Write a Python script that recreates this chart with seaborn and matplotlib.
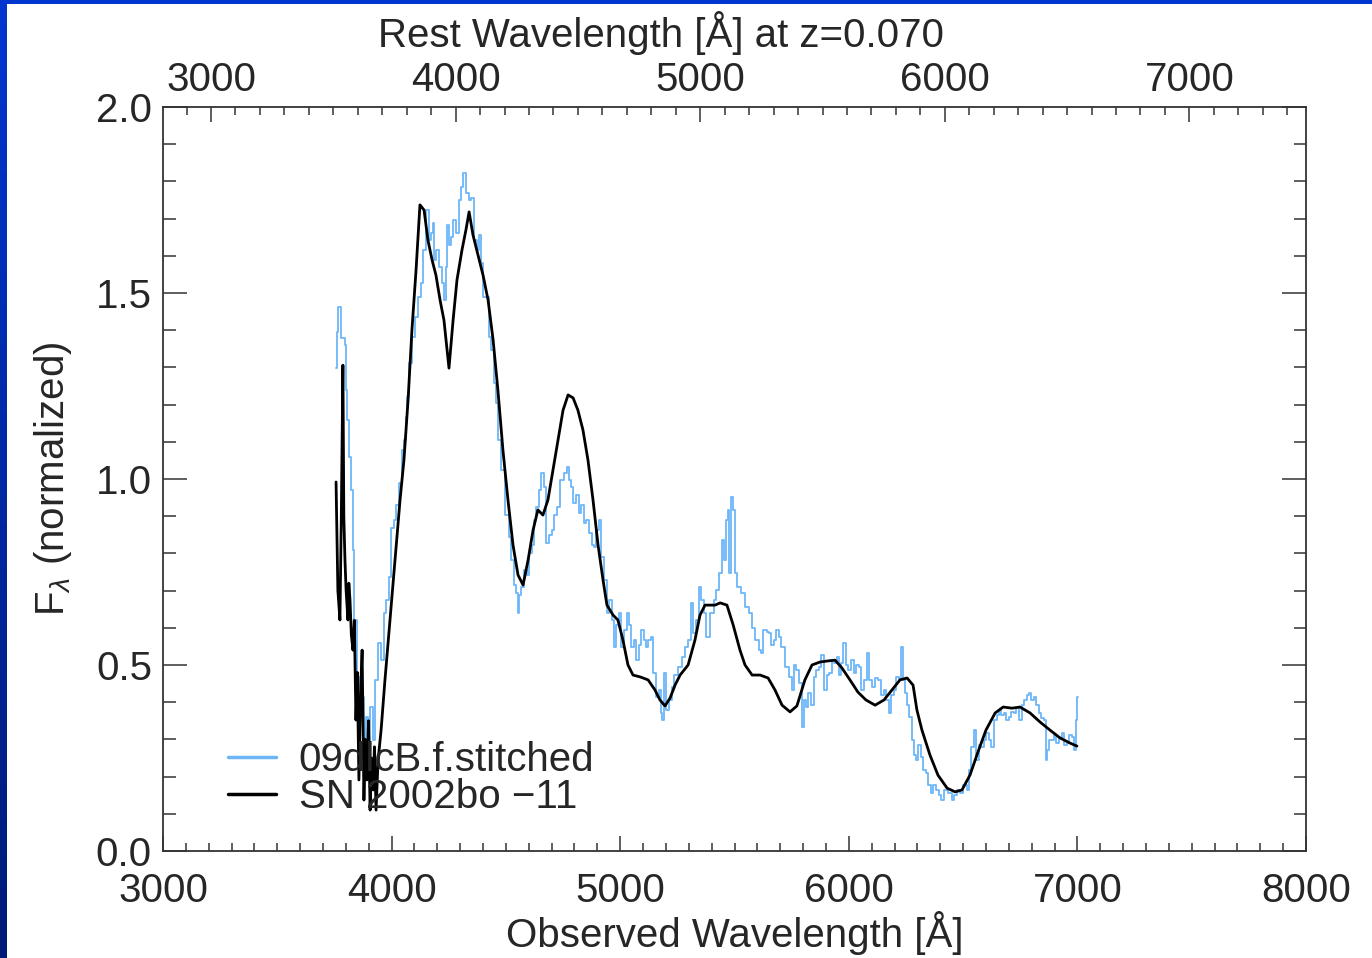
import numpy as np
import pandas as pd
import matplotlib
matplotlib.use("Agg")
import matplotlib.pyplot as plt
import seaborn as sns
from matplotlib.ticker import MultipleLocator, FixedLocator

# ---------------- data ----------------
Z = 0.070

# 09dlcB.f.stitched (observed wavelength [A], normalized flux)
wave_09dlc = [3757, 3761, 3774, 3783, 3792, 3796, 3801, 3809, 3818, 3827, 3831, 3840, 3853, 3871, 3884, 3892,
              3901, 3914, 3923, 3936, 3949, 3962, 3971, 3984, 3993, 4002, 4015, 4024, 4037, 4050, 4059, 4067,
              4072, 4081, 4094, 4111, 4124, 4133, 4146, 4159, 4168, 4177, 4181, 4190, 4199, 4212, 4225, 4234,
              4242, 4247, 4256, 4264, 4277, 4290, 4299, 4308, 4317, 4330, 4343, 4356, 4365, 4378, 4387, 4395,
              4409, 4422, 4430, 4444, 4452, 4461, 4474, 4487, 4505, 4518, 4527, 4540, 4549, 4553, 4562, 4571,
              4584, 4597, 4605, 4619, 4627, 4640, 4649, 4658, 4671, 4684, 4697, 4706, 4719, 4728, 4745, 4759,
              4772, 4780, 4789, 4802, 4815, 4824, 4837, 4846, 4859, 4868, 4881, 4890, 4899, 4912, 4920, 4934,
              4947, 4955, 4969, 4977, 4990, 4999, 5012, 5025, 5034, 5043, 5052, 5065, 5074, 5087, 5096, 5109,
              5117, 5130, 5139, 5152, 5165, 5174, 5183, 5187, 5196, 5209, 5218, 5231, 5244, 5262, 5275, 5292,
              5305, 5314, 5327, 5340, 5349, 5362, 5371, 5384, 5402, 5415, 5424, 5437, 5450, 5459, 5467, 5476,
              5480, 5489, 5498, 5502, 5524, 5537, 5555, 5568, 5581, 5598, 5612, 5620, 5633, 5647, 5655, 5668,
              5677, 5690, 5699, 5712, 5730, 5743, 5756, 5765, 5773, 5787, 5800, 5808, 5817, 5830, 5843, 5852,
              5865, 5874, 5883, 5896, 5909, 5918, 5931, 5940, 5953, 5962, 5970, 5983, 5992, 6005, 6018, 6027,
              6040, 6049, 6062, 6071, 6084, 6093, 6106, 6119, 6136, 6150, 6158, 6171, 6180, 6193, 6202, 6215,
              6224, 6233, 6242, 6246, 6259, 6268, 6281, 6290, 6298, 6311, 6320, 6333, 6342, 6355, 6364, 6377,
              6386, 6399, 6412, 6425, 6443, 6456, 6465, 6478, 6495, 6508, 6522, 6530, 6539, 6552, 6565, 6574,
              6583, 6596, 6605, 6618, 6626, 6640, 6653, 6661, 6674, 6683, 6696, 6705, 6718, 6727, 6740, 6749,
              6762, 6771, 6784, 6793, 6805, 6814, 6828, 6836, 6849, 6858, 6867, 6871, 6880, 6889, 6902, 6911,
              6924, 6937, 6946, 6959, 6968, 6981, 6990, 6994, 7003]
flux_09dlc = [1.298, 1.395, 1.462, 1.379, 1.379, 1.360, 1.239, 1.159, 1.059, 0.970, 0.809, 0.621, 0.468, 0.414, 0.298, 0.360,
              0.245, 0.387, 0.298, 0.460, 0.559, 0.513, 0.640, 0.675, 0.737, 0.868, 0.890, 0.930, 0.989, 1.078, 1.105, 1.167,
              1.220, 1.312, 1.382, 1.435, 1.489, 1.527, 1.616, 1.723, 1.642, 1.661, 1.688, 1.589, 1.616, 1.570, 1.527, 1.481,
              1.570, 1.683, 1.629, 1.651, 1.696, 1.661, 1.750, 1.785, 1.823, 1.769, 1.750, 1.755, 1.642, 1.616, 1.656, 1.581,
              1.489, 1.489, 1.382, 1.347, 1.258, 1.204, 1.105, 1.024, 0.903, 0.844, 0.782, 0.715, 0.694, 0.640, 0.688, 0.710,
              0.755, 0.742, 0.801, 0.823, 0.890, 0.925, 0.970, 1.016, 0.978, 0.828, 0.849, 0.863, 0.903, 0.925, 0.997, 1.016,
              1.032, 0.997, 0.978, 0.935, 0.957, 0.909, 0.930, 0.882, 0.890, 0.855, 0.823, 0.817, 0.863, 0.890, 0.790, 0.728,
              0.640, 0.675, 0.621, 0.548, 0.608, 0.640, 0.548, 0.594, 0.640, 0.608, 0.548, 0.567, 0.513, 0.554, 0.594, 0.567,
              0.548, 0.567, 0.575, 0.478, 0.414, 0.433, 0.371, 0.352, 0.478, 0.379, 0.406, 0.441, 0.473, 0.495, 0.522, 0.548,
              0.567, 0.667, 0.586, 0.621, 0.710, 0.675, 0.640, 0.575, 0.640, 0.675, 0.702, 0.747, 0.836, 0.782, 0.890, 0.917,
              0.747, 0.952, 0.917, 0.747, 0.710, 0.694, 0.656, 0.640, 0.599, 0.567, 0.540, 0.532, 0.594, 0.589, 0.586, 0.554,
              0.567, 0.594, 0.575, 0.548, 0.495, 0.468, 0.433, 0.500, 0.487, 0.452, 0.333, 0.406, 0.387, 0.425, 0.392, 0.468,
              0.487, 0.495, 0.527, 0.433, 0.473, 0.478, 0.513, 0.505, 0.522, 0.473, 0.505, 0.559, 0.500, 0.487, 0.513, 0.478,
              0.500, 0.495, 0.433, 0.460, 0.532, 0.460, 0.441, 0.465, 0.460, 0.419, 0.433, 0.406, 0.371, 0.419, 0.433, 0.468,
              0.460, 0.548, 0.460, 0.425, 0.392, 0.360, 0.298, 0.258, 0.245, 0.285, 0.253, 0.218, 0.210, 0.177, 0.156, 0.177,
              0.164, 0.151, 0.137, 0.164, 0.156, 0.137, 0.151, 0.164, 0.156, 0.177, 0.164, 0.218, 0.280, 0.325, 0.245, 0.285,
              0.280, 0.298, 0.317, 0.298, 0.280, 0.352, 0.366, 0.379, 0.366, 0.371, 0.352, 0.360, 0.374, 0.371, 0.384, 0.352,
              0.392, 0.406, 0.419, 0.425, 0.406, 0.414, 0.392, 0.371, 0.358, 0.352, 0.245, 0.272, 0.298, 0.298, 0.312, 0.290,
              0.304, 0.317, 0.285, 0.290, 0.312, 0.306, 0.272, 0.352, 0.414]

# SN 2002bo -11 (template)
wave_02bo = [3757, 3765, 3774, 3780, 3787, 3791, 3796, 3801, 3809, 3813, 3818, 3824, 3831, 3837, 3844, 3850,
             3857, 3864, 3871, 3879, 3885, 3892, 3899, 3906, 3912, 3919, 3925, 3932, 3941,
             3954, 3971, 3993, 4015, 4037, 4054, 4072, 4089, 4107, 4124, 4142, 4159, 4177, 4194, 4212, 4229,
             4251, 4269, 4286, 4308, 4325, 4339, 4356, 4378, 4400, 4422, 4444, 4465, 4487, 4509, 4531, 4553,
             4575, 4597, 4619, 4640, 4662, 4684, 4706, 4728, 4750, 4772, 4794, 4815, 4837, 4859, 4881, 4903,
             4925, 4942, 4969, 4990, 5012, 5034, 5056, 5087, 5122, 5152, 5174, 5196, 5218, 5240, 5262, 5297,
             5327, 5349, 5371, 5415, 5437, 5467, 5494, 5524, 5546, 5577, 5612, 5647, 5677, 5708, 5743, 5773,
             5808, 5839, 5874, 5909, 5940, 5970, 6005, 6040, 6075, 6115, 6154, 6189, 6224, 6255, 6281, 6298,
             6320, 6355, 6390, 6430, 6465, 6495, 6530, 6565, 6600, 6640, 6675, 6714, 6749, 6793, 6836, 6880,
             6924, 6968, 6998]
flux_02bo = [0.992, 0.700, 0.621, 0.900, 1.306, 0.900, 0.782, 0.700, 0.621, 0.720, 0.675, 0.580, 0.540, 0.620, 0.352, 0.480,
             0.191, 0.420, 0.540, 0.137, 0.300, 0.191, 0.350, 0.110, 0.250, 0.164, 0.280, 0.110, 0.245,
             0.325, 0.460, 0.621, 0.782, 0.944, 1.051, 1.212, 1.401, 1.562, 1.737, 1.723, 1.642, 1.589, 1.548, 1.481, 1.427,
             1.298, 1.427, 1.535, 1.616, 1.669, 1.718, 1.656, 1.602, 1.548, 1.481, 1.374, 1.239, 1.078, 0.944, 0.823, 0.742,
             0.715, 0.782, 0.863, 0.917, 0.903, 0.944, 1.024, 1.105, 1.185, 1.226, 1.218, 1.185, 1.132, 1.051, 0.944, 0.823,
             0.728, 0.661, 0.634, 0.621, 0.567, 0.500, 0.473, 0.468, 0.460, 0.433, 0.406, 0.390, 0.411, 0.446, 0.473, 0.500,
             0.567, 0.634, 0.661, 0.661, 0.667, 0.661, 0.608, 0.540, 0.500, 0.473, 0.473, 0.465, 0.433, 0.392, 0.374, 0.390,
             0.460, 0.500, 0.508, 0.511, 0.513, 0.492, 0.460, 0.427, 0.406, 0.392, 0.406, 0.433, 0.460, 0.465, 0.446, 0.379,
             0.325, 0.258, 0.204, 0.169, 0.159, 0.164, 0.204, 0.266, 0.325, 0.371, 0.387, 0.384, 0.387, 0.371, 0.347, 0.325,
             0.304, 0.290, 0.282]

labels = ["09dlcB.f.stitched", "SN 2002bo \u221211"]
obs_ticks = [3000, 4000, 5000, 6000, 7000, 8000]
rest_ticks = [3000, 4000, 5000, 6000, 7000]
y_ticks = [0.0, 0.5, 1.0, 1.5, 2.0]

df = pd.concat([
    pd.DataFrame({"wave": wave_09dlc, "flux": flux_09dlc, "spec": labels[0]}),
    pd.DataFrame({"wave": wave_02bo, "flux": flux_02bo, "spec": labels[1]}),
], ignore_index=True)

# ---------------- style ----------------
sns.set_theme(style="ticks")
plt.rcParams["font.family"] = ["Liberation Sans", "DejaVu Sans"]
plt.rcParams["mathtext.fontset"] = "custom"
plt.rcParams["mathtext.rm"] = "Liberation Sans"
plt.rcParams["mathtext.it"] = "Liberation Sans:italic"

FS = 29
W, H = 1372, 958
fig = plt.figure(figsize=(W / 100, H / 100), dpi=100)
fig.patch.set_facecolor("white")

# blue slide border (left gradient strip and top strip)
bax = fig.add_axes([0, 0, 7 / W, 1])
grad = np.linspace(0, 1, 256).reshape(-1, 1)
cmap = matplotlib.colors.LinearSegmentedColormap.from_list("b", ["#0036d0", "#001a78"])
bax.imshow(grad, aspect="auto", cmap=cmap, extent=[0, 1, 0, 1], origin="upper")
bax.set_axis_off()
fig.add_artist(plt.Rectangle((0, 1 - 4 / H), 1, 4 / H, transform=fig.transFigure,
                             color="#0036d0", lw=0))

ax = fig.add_axes([163 / W, 1 - 851 / H, (1306 - 163) / W, (851 - 107) / H])

palette = {labels[0]: "#6cb6f8", labels[1]: "black"}
sns.lineplot(data=df[df.spec == labels[0]], x="wave", y="flux", hue="spec", palette=palette,
             estimator=None, sort=False, drawstyle="steps-mid", lw=1.3, ax=ax, legend=False)
sns.lineplot(data=df[df.spec == labels[1]], x="wave", y="flux", hue="spec", palette=palette,
             estimator=None, sort=False, lw=2.0, ax=ax, legend=False)

ax.set_xlim(3000, 8000)
ax.set_ylim(0, 2.0)
ax.xaxis.set_major_locator(FixedLocator(obs_ticks))
ax.xaxis.set_minor_locator(MultipleLocator(100))
ax.yaxis.set_major_locator(FixedLocator(y_ticks))
ax.yaxis.set_minor_locator(MultipleLocator(0.1))
ax.set_xticklabels([str(t) for t in obs_ticks])
ax.set_yticklabels([f"{t:.1f}" for t in y_ticks])

for s in ax.spines.values():
    s.set_color("#333333")
    s.set_linewidth(1.3)

ax.tick_params(axis="x", which="major", direction="in", length=11, width=1.1, color="#333333",
               labelsize=FS, pad=15, top=False)
ax.tick_params(axis="x", which="minor", direction="in", length=6, width=1.1, color="#333333", top=False)
ax.tick_params(axis="y", which="major", direction="in", length=17, width=1.1, color="#333333",
               labelsize=FS, pad=8, right=True)
ax.tick_params(axis="y", which="minor", direction="in", length=9, width=1.1, color="#333333", right=True)

ax.set_xlabel("Observed Wavelength [\u00c5]", fontsize=FS, labelpad=1)
ax.set_ylabel(r"F$_{\lambda}$ (normalized)", fontsize=FS, labelpad=16)

# top axis: rest-frame wavelength
sec = ax.secondary_xaxis("top", functions=(lambda x: x / (1 + Z), lambda x: x * (1 + Z)))
sec.xaxis.set_major_locator(FixedLocator(rest_ticks))
sec.xaxis.set_minor_locator(MultipleLocator(100))
sec.set_xticklabels([str(t) for t in rest_ticks])
sec.tick_params(which="major", direction="in", length=11, width=1.1, color="#333333",
                labelsize=FS, pad=6)
sec.tick_params(which="minor", direction="in", length=6, width=1.1, color="#333333")
sec.spines["top"].set_visible(False)
fig.text(661 / W, 1 - 33 / H, "Rest Wavelength [\u00c5] at z=0.070", fontsize=FS,
         ha="center", va="center")

# legend
handles = [matplotlib.lines.Line2D([], [], color=palette[labels[0]], lw=2.5),
           matplotlib.lines.Line2D([], [], color="black", lw=2.5)]
ax.legend(handles, labels, loc="lower left", bbox_to_anchor=(0.057, 0.047), frameon=False,
          fontsize=FS, handlelength=1.2, handletextpad=0.55, labelspacing=-0.03, borderpad=0,
          borderaxespad=0)

fig.savefig("out.png", dpi=100, facecolor="white")
